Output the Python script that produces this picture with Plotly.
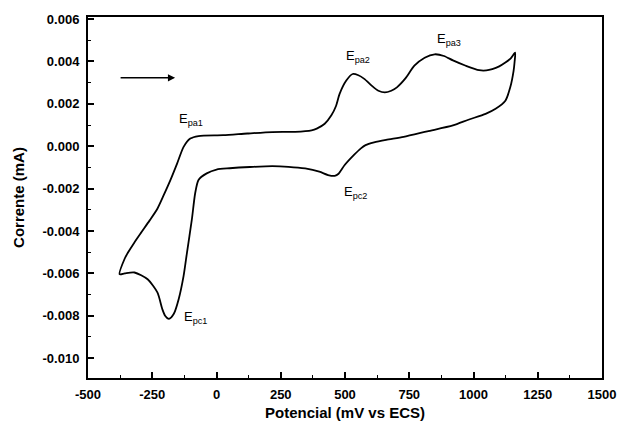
import plotly.graph_objects as go

# Cyclic voltammogram: anodic sweep (upper branch) then cathodic sweep (lower branch)
potential_anodic = [-377, -357, -345, -320, -294, -260, -230, -205, -179, -153, -128, -102, -70, 26,
                    120, 217, 306, 370, 390, 421, 447, 465, 479, 505, 530, 552, 575, 605, 630, 655,
                    680, 702, 735, 770, 810, 849, 885, 920, 970, 1022, 1050, 1073, 1100, 1124, 1145,
                    1162]
current_anodic = [-0.00604, -0.0053, -0.00503, -0.00455, -0.00409, -0.0035, -0.00295, -0.0023,
                  -0.00159, -0.00081, -0.00003, 0.00036, 0.00048, 0.00052, 0.0006, 0.00067, 0.00068,
                  0.00075, 0.00083, 0.00106, 0.00146, 0.0019, 0.00247, 0.0031, 0.00341, 0.00335,
                  0.00318, 0.00285, 0.00262, 0.00254, 0.00262, 0.00278, 0.0032, 0.0038, 0.00418,
                  0.00434, 0.00426, 0.00405, 0.0038, 0.00359, 0.00358, 0.00364, 0.00377, 0.00395,
                  0.00415, 0.00442]

potential_cathodic = [1160, 1156, 1143, 1124, 1086, 1047, 980, 920, 820, 728, 660, 613, 580, 562,
                      536, 498, 475, 460, 434, 400, 345, 280, 217, 130, 51, 0, -38, -70, -83, -96,
                      -115, -128, -147, -166, -185, -200, -211, -230, -268, -319, -357, -377]
current_cathodic = [0.0040, 0.00356, 0.00278, 0.00215, 0.00177, 0.00153, 0.00125, 0.00098, 0.0007,
                    0.00044, 0.0003, 0.00018, 0.00005, -0.0001, -0.0004, -0.0009, -0.0013, -0.0014,
                    -0.00136, -0.0012, -0.00105, -0.00097, -0.00094, -0.00098, -0.00104, -0.0011,
                    -0.00128, -0.00159, -0.00222, -0.00347, -0.00503, -0.00612, -0.00721, -0.00791,
                    -0.00815, -0.0080, -0.00768, -0.0069, -0.00628, -0.00596, -0.006, -0.00604]

peak_labels = ["E<sub>pa1</sub>", "E<sub>pa2</sub>", "E<sub>pa3</sub>", "E<sub>pc1</sub>", "E<sub>pc2</sub>"]
peak_label_x = [-100, 550, 903, -80, 540]
peak_label_y = [0.00128, 0.00423, 0.00503, -0.0081, -0.00218]

x_ticks = [-500, -250, 0, 250, 500, 750, 1000, 1250, 1500]
y_ticks = [0.006, 0.004, 0.002, 0.000, -0.002, -0.004, -0.006, -0.008, -0.010]

fig = go.Figure()
fig.add_trace(go.Scatter(
    x=potential_anodic + potential_cathodic,
    y=current_anodic + current_cathodic,
    mode="lines",
    line=dict(color="black", width=1.8, shape="spline", smoothing=0.7),
    showlegend=False,
    hoverinfo="skip",
))

for txt, lx, ly in zip(peak_labels, peak_label_x, peak_label_y):
    fig.add_annotation(x=lx, y=ly, text=txt, showarrow=False,
                       font=dict(family="Liberation Sans, Arial", size=13, color="black"))

# Scan direction arrow
fig.add_annotation(x=-161, y=0.00323, ax=-379, ay=0.00323, xref="x", yref="y",
                   axref="x", ayref="y", showarrow=True, arrowhead=2, arrowsize=0.9,
                   arrowwidth=1.6, arrowcolor="black", text="")

axis_font = dict(family="Liberation Sans, Arial", size=13, color="black", weight="bold")
title_font = dict(family="Liberation Sans, Arial", size=15, color="black", weight="bold")

fig.update_xaxes(
    range=[-500, 1500], tickvals=x_ticks, ticktext=[str(v) for v in x_ticks],
    showline=True, linecolor="black", linewidth=2, mirror=True,
    ticks="inside", ticklen=6, tickwidth=1.5, tickcolor="black",
    minor=dict(ticks="inside", ticklen=3, tickwidth=1.2, tickcolor="black", dtick=125, tick0=-500),
    showgrid=False, zeroline=False, tickfont=axis_font, ticklabelstandoff=3,
    title=dict(text="Potencial (mV vs ECS)", font=title_font, standoff=7),
)
fig.update_yaxes(
    range=[-0.01094, 0.0061], tickvals=y_ticks, ticktext=[f"{v:.3f}" for v in y_ticks],
    showline=True, linecolor="black", linewidth=2, mirror=True,
    ticks="inside", ticklen=6, tickwidth=1.5, tickcolor="black",
    minor=dict(ticks="inside", ticklen=3, tickwidth=1.2, tickcolor="black", dtick=0.001, tick0=0),
    showgrid=False, zeroline=False, tickfont=axis_font, ticklabelstandoff=4,
    title=dict(text="Corrente (mA)", font=title_font, standoff=14),
)

fig.update_layout(
    width=628, height=431,
    margin=dict(l=88, r=19, t=16, b=51),
    paper_bgcolor="white", plot_bgcolor="white",
)

fig.write_html("out.html")
